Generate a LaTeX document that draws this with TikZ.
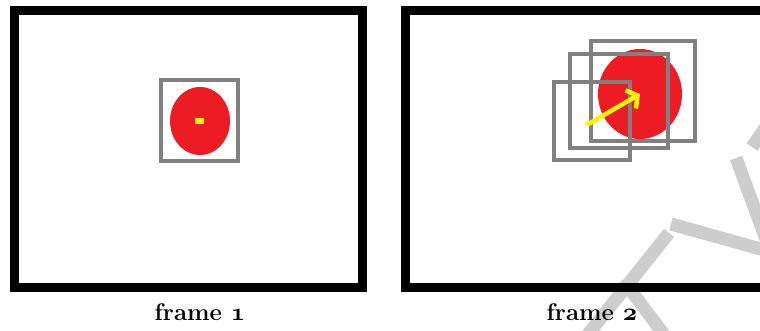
\documentclass[tikz,border=0pt]{standalone}
\usetikzlibrary{positioning, arrows.meta, shapes.geometric}
\usepackage{xcolor}
\definecolor{objred}{HTML}{ED1C24}
\definecolor{markyellow}{HTML}{FFF200}
\definecolor{boxgray}{HTML}{808080}
\definecolor{wmgray}{HTML}{CDCDCD}
\newcommand{\osnum}[1]{{\boldmath$\mathnormal{#1}$}}

\begin{document}
\begin{tikzpicture}[x=1pt, y=-1pt,
  frameline/.style={draw=black, line width=9pt},
  trackbox/.style={draw=boxgray, line width=4.5pt},
  target/.style={ellipse, fill=objred, inner sep=0pt},
  wmark/.style={draw=wmgray, line width=13pt},
  caption/.style={font=\fontsize{24}{26}\selectfont\bfseries}]
  \clip (0,0) rectangle (760,331);
  \fill[white] (0,0) rectangle (760,331);

  % watermark strokes
  \draw[wmark] (669,233) -- (585,338);
  \draw[wmark] (623,280) -- (668,340);
  \draw[wmark] (671,224) -- (775,253);
  \draw[wmark] (736,158) -- (770,250);
  \draw[wmark] (772,118) -- (752,147);

  % frame 1
  \draw[frameline] (14.5,11) rectangle (362.5,287.5);
  \node[target, minimum width=60pt, minimum height=68pt] (obj1) at (200,121) {};
  \fill[markyellow] (194.5,118.5) rectangle (203.5,124);
  \draw[trackbox] (161,80) rectangle (238,161);
  \node[caption] (label1) at (200,312) {frame \osnum{1}};

  % frame 2
  \draw[frameline] (405.5,11) rectangle (800,287.5);
  \node[target, minimum width=84pt, minimum height=90pt] (obj2) at (640,94) {};
  \draw[trackbox] (591,41) rectangle (695,141);
  \draw[trackbox] (570,54) rectangle (668,148);
  \draw[trackbox] (554,82) rectangle (630,160);
  \coordinate (shift) at (586.7,125);
  \draw[markyellow, line width=4.5pt, -{Straight Barb[length=8pt, width=21pt]}] (shift) -- (obj2.center);
  \node[caption] (label2) at (592,312) {frame \osnum{2}};
\end{tikzpicture}
\end{document}
